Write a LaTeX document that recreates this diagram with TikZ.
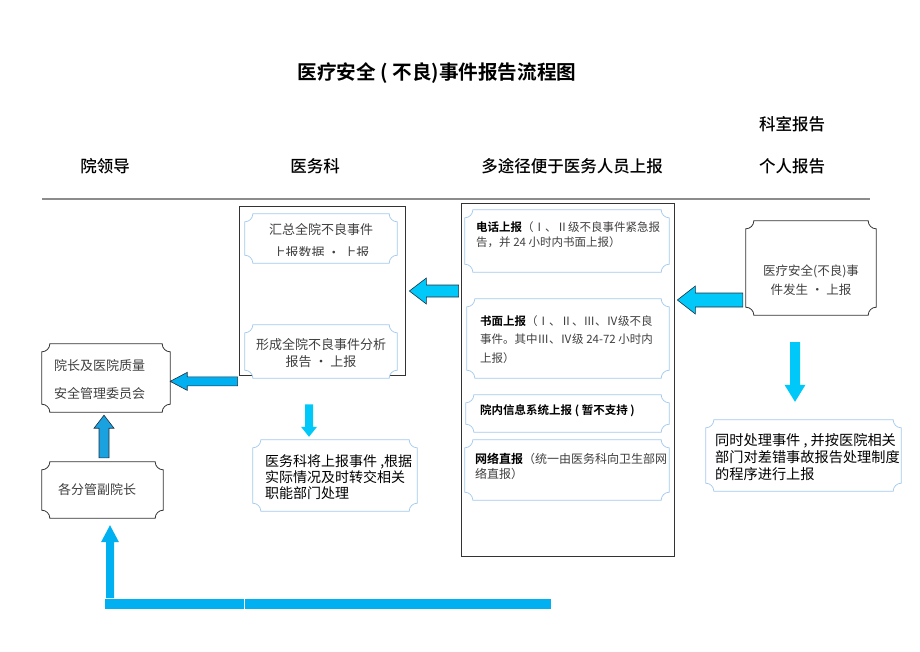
\documentclass[tikz,border=0pt]{standalone}
\usepackage{fontspec}
\setmainfont{Noto Sans CJK SC}[BoldFont={Noto Sans CJK SC Bold}]
\newfontfamily\cjkmed{Noto Sans CJK SC Medium}
\usepackage{tikz}
\usetikzlibrary{calc,fit}
\usepackage{xcolor}

\definecolor{arrowcyan}{HTML}{00C8F8}
\definecolor{barblue}{HTML}{00B0F0}
\definecolor{upblue}{HTML}{1AA2E0}
\definecolor{arrowedge}{HTML}{1F2F3F}
\definecolor{framegray}{HTML}{333333}
\definecolor{frameblue}{HTML}{A3C9EE}
\definecolor{rulegray}{HTML}{8C8C8C}
\definecolor{txtgray}{HTML}{404040}

\newcommand\kw[1]{\textbf{\textcolor{black}{#1}}}

% frame with concave corners round a fitted node
\newcommand\scrollframe[2]{%
  \filldraw[#2] ([xshift=8pt]#1.north west) -- ([xshift=-8pt]#1.north east)
    arc[start angle=180, end angle=270, radius=8pt]
    -- ([yshift=8pt]#1.south east)
    arc[start angle=90, end angle=180, radius=8pt]
    -- ([xshift=8pt]#1.south west)
    arc[start angle=0, end angle=90, radius=8pt]
    -- ([yshift=-8pt]#1.north west)
    arc[start angle=270, end angle=360, radius=8pt] -- cycle;}

% block arrow: #2 start, #3 tip, #4 half shaft, #5 half head, #6 head length
\newcommand\blockarrow[6][]{%
  \coordinate (ba) at ($(#3)!#6!(#2)$);
  \filldraw[#1] ($(#2)!#4!90:(#3)$) -- ($(ba)!#4!-90:(#2)$) -- ($(ba)!#5!-90:(#2)$)
    -- (#3) -- ($(ba)!#5!90:(#2)$) -- ($(ba)!#4!90:(#2)$) -- ($(#2)!#4!-90:(#3)$) -- cycle;}

\begin{document}
\begin{tikzpicture}[
            x = 1pt, y = -1pt, % pixel grid, y downwards
            every node/.style = {inner sep=0pt},
            title/.style = {font=\fontsize{19.6}{22}\selectfont\bfseries},
            column/.style = {font=\fontsize{16.5}{19}\selectfont\cjkmed},
            plain/.style = {text=txtgray, align=center},
            small/.style = {text=txtgray, align=left, anchor=west},
            note/.style = {align=left, anchor=west},
            blackframe/.style = {draw=framegray, fill=white, line width=0.8pt},
            blueframe/.style = {draw=frameblue, fill=white, line width=0.7pt},
            column box/.style = {draw=framegray, line width=0.7pt}
        ]
        \useasboundingbox (0,0) rectangle (920,651);

        % Titolo e colonne
        \node[title] (title) at (437,73) {医疗安全 ( 不良)事件报告流程图};
        \node[column] (hlead) at (105,166) {院领导};
        \node[column] (hoffice) at (315,166) {医务科};
        \node[column] (hways) at (572,166) {多途径便于医务人员上报};
        \node[column] (hself) at (792,166) {个人报告};
        \node[column] (hdept) at (792,124) {科室报告};
        \coordinate (rulel) at (42,199);
        \coordinate (ruler) at (870,199);
        \draw[rulegray, line width=1.5pt] (rulel) -- (ruler);

        % 医务科
        \node[column box, fit={(239,206) (405,375)}] (office) {};
        \node[fit={(245,214) (397,263)}] (sum) {};
        \scrollframe{sum}{blueframe}
        \begin{scope}
            \clip (245,214) rectangle (397,255);
            \node[plain, font=\fontsize{13}{23}\selectfont] (sumtxt) at (321,241.5) {汇总全院不良事件\\上报数据 • 上报};
        \end{scope}
        \node[fit={(245,325) (397,378)}] (ana) {};
        \scrollframe{ana}{blueframe}
        \node[plain, font=\fontsize{13}{17}\selectfont] (anatxt) at (321,353.5) {形成全院不良事件分析\\报告 • 上报};

        % canali di segnalazione
        \node[column box, fit={(461,203) (674,556)}] (ways) {};
        \node[fit={(465,210) (669,272)}] (tel) {};
        \scrollframe{tel}{blueframe}
        \node[small, font=\fontsize{11.5}{15}\selectfont] (teltxt) at (476,234.5) {\kw{电话上报}（Ⅰ、Ⅱ级不良事件紧急报\\告，并 24 小时内书面上报）};
        \node[fit={(467,299) (669,378)}] (doc) {};
        \scrollframe{doc}{blueframe}
        \node[small, font=\fontsize{11.5}{18.5}\selectfont] (doctxt) at (480,339.5) {\kw{书面上报}（Ⅰ、Ⅱ、Ⅲ、Ⅳ级不良\\事件。其中Ⅲ、Ⅳ级 24-72 小时内\\上报）};
        \node[fit={(466,395) (669,432)}] (sys) {};
        \scrollframe{sys}{blueframe}
        \node[small, font=\fontsize{11.5}{15}\selectfont] (systxt) at (480,411) {\kw{院内信息系统上报 ( 暂不支持 )}};
        \node[fit={(465,440) (669,500)}] (net) {};
        \scrollframe{net}{blueframe}
        \node[small, font=\fontsize{12}{15}\selectfont] (nettxt) at (475,466.5) {\kw{网络直报}（统一由医务科向卫生部网\\络直报）};

        % segnalazione personale
        \node[fit={(746,221) (876,315)}] (event) {};
        \scrollframe{event}{blackframe}
        \node[plain, font=\fontsize{12.5}{19}\selectfont] (eventtxt) at (811,280.5) {医疗安全(不良)事\\件发生 • 上报};
        \node[fit={(706,420) (901,491)}] (proc) {};
        \scrollframe{proc}{blueframe}
        \node[note, font=\fontsize{14.2}{17}\selectfont] (proctxt) at (715,457) {同时处理事件 , 并按医院相关\\部门对差错事故报告处理制度\\的程序进行上报};
        \node[fit={(253,440) (417,511)}] (trans) {};
        \scrollframe{trans}{blueframe}
        \node[note, font=\fontsize{14}{16}\selectfont] (transtxt) at (265,477) {医务科将上报事件 ,根据\\实际情况及时转交相关\\职能部门处理};

        % direzione
        \node[fit={(42,344) (170,412)}] (lead) {};
        \scrollframe{lead}{blackframe}
        \node[plain, font=\fontsize{13}{28}\selectfont] (leadtxt) at (99.5,380) {院长及医院质量\\安全管理委员会};
        \node[fit={(42,462) (163,518)}] (vice) {};
        \scrollframe{vice}{blackframe}
        \node[plain, font=\fontsize{13}{16}\selectfont] (vicetxt) at (97,490) {各分管副院长};

        % frecce
        \coordinate (a1s) at ($(event.west)+(-3,32)$);
        \coordinate (a1t) at ($(ways.east |- a1s)+(3,0)$);
        \blockarrow[fill=arrowcyan, draw=arrowedge, line width=0.6pt]{a1s}{a1t}{7pt}{14pt}{18pt}
        \coordinate (a2s) at ($(ways.west)+(-2,-88.5)$);
        \coordinate (a2t) at ($(office.east |- a2s)+(4,0)$);
        \blockarrow[fill=arrowcyan, draw=arrowedge, line width=0.6pt]{a2s}{a2t}{6pt}{13pt}{17pt}
        \coordinate (a3s) at ($(office.south west)+(-1,6)$);
        \coordinate (a3t) at (lead.east |- a3s);
        \blockarrow[fill=barblue, draw=arrowedge, line width=0.6pt]{a3s}{a3t}{4.5pt}{9pt}{17pt}
        \coordinate (a4s) at ($(vice.north)+(1.5,-4)$);
        \coordinate (a4t) at ($(a4s |- lead.south)+(0,3)$);
        \blockarrow[fill=upblue, draw=arrowedge, line width=0.6pt]{a4s}{a4t}{5pt}{10pt}{13pt}
        \coordinate (a5s) at ($(office.south)+(-13,29)$);
        \coordinate (a5t) at ($(a5s |- trans.north)+(0,-3)$);
        \blockarrow[fill=arrowcyan, draw=none]{a5s}{a5t}{4pt}{8pt}{10pt}
        \coordinate (a6s) at ($(event.south)+(-16,27)$);
        \coordinate (a6t) at ($(a6s |- proc.north)+(0,-18)$);
        \blockarrow[fill=arrowcyan, draw=none]{a6s}{a6t}{5pt}{10.5pt}{17pt}

        % ritorno dal basso
        \coordinate (barl) at (105,599);
        \coordinate (barm) at (244.5,609);
        \coordinate (barr) at (551,599);
        \fill[barblue] (barl) rectangle ([xshift=-0.5pt]barm);
        \fill[barblue] ([xshift=0.5pt]barm) rectangle (barr);
        \coordinate (a7t) at ($(vice.south)+(7.5,7)$);
        \coordinate (a7s) at ($(a7t |- barl)+(0,-1)$);
        \blockarrow[fill=barblue, draw=none]{a7s}{a7t}{4pt}{9pt}{17pt}
\end{tikzpicture}
\end{document}
